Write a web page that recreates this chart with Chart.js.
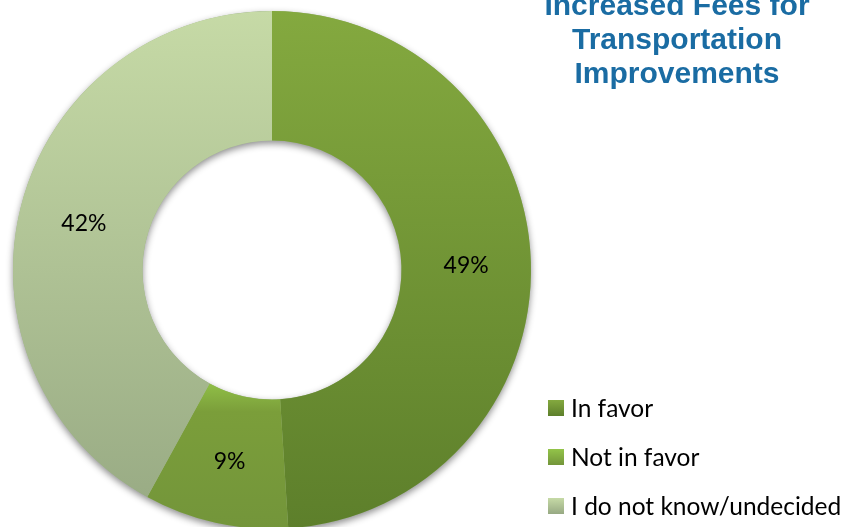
<!DOCTYPE html>
<html>
<head>
    <title>Increased Fees for Transportation Improvements</title>
    <script src="https://cdn.jsdelivr.net/npm/chart.js"></script>
    <style>
        html, body {
            margin: 0;
            padding: 0;
            background: #fff;
            overflow: hidden;
        }
        #wrap {
            position: relative;
            width: 856px;
            height: 531px;
        }
    </style>
</head>
<body>
<div id="wrap">
    <canvas id="feesChart"></canvas>
</div>
<script>
    // survey answers (percent)
    var answers = ['In favor', 'Not in favor', 'I do not know/undecided'];
    var shares = [49, 9, 42];
    var titleLines = ['Increased Fees for', 'Transportation', 'Improvements'];

    // top / bottom colour of each slice
    var topColors = ['#84a93f', '#93c449', '#c6daa6'];
    var bottomColors = ['#5d7f2b', '#73953a', '#97a983'];

    function sliceFill(context) {
        var i = context.dataIndex;
        var area = context.chart.chartArea;
        if (!area) return topColors[i];
        var c = context.chart.ctx;
        var g;
        if (i === 1) {
            // small slice sits at the bottom, light only along the hole edge
            var cy = (area.top + area.bottom) / 2;
            var r = (area.bottom - area.top) / 2;
            g = c.createLinearGradient(0, cy + r * 0.42, 0, area.bottom);
            g.addColorStop(0, topColors[1]);
            g.addColorStop(0.22, '#7b9e3a');
            g.addColorStop(1, bottomColors[1]);
        } else {
            g = c.createLinearGradient(0, area.top, 0, area.bottom);
            g.addColorStop(0, topColors[i]);
            g.addColorStop(1, bottomColors[i]);
        }
        return g;
    }

    var ringShadow = {
        id: 'ringShadow',
        beforeDatasetsDraw: function(chart) {
            var arc = chart.getDatasetMeta(0).data[0];
            if (!arc) return;
            var ctx = chart.ctx;
            ctx.save();
            ctx.beginPath();
            ctx.arc(arc.x, arc.y, arc.outerRadius, 0, Math.PI * 2);
            ctx.arc(arc.x, arc.y, arc.innerRadius, 0, Math.PI * 2, true);
            ctx.shadowColor = 'rgba(0,0,0,0.45)';
            ctx.shadowBlur = 7;
            ctx.shadowOffsetY = 3;
            ctx.fillStyle = '#9fb58a';
            ctx.fill();
            ctx.restore();
        }
    };

    var sliceLabels = {
        id: 'sliceLabels',
        afterDatasetsDraw: function(chart) {
            var ctx = chart.ctx;
            ctx.save();
            ctx.font = '23px Lato';
            ctx.fillStyle = '#000';
            ctx.textAlign = 'center';
            ctx.textBaseline = 'middle';
            chart.getDatasetMeta(0).data.forEach(function(arc, i) {
                var p = arc.tooltipPosition();
                ctx.fillText(shares[i] + '%', p.x, p.y + 2);
            });
            ctx.restore();
        }
    };

    var sideText = {
        id: 'sideText',
        afterDraw: function(chart) {
            var ctx = chart.ctx;
            ctx.save();
            // title, top line runs off the top edge
            ctx.font = 'bold 30px "Liberation Sans"';
            ctx.fillStyle = '#1a6ca3';
            ctx.textAlign = 'center';
            ctx.textBaseline = 'alphabetic';
            titleLines.forEach(function(line, i) {
                ctx.fillText(line, 677, 15 + i * 34);
            });

            // legend
            ctx.font = '24.5px Lato';
            ctx.textAlign = 'left';
            ctx.textBaseline = 'middle';
            answers.forEach(function(name, i) {
                var y = 408 + i * 49;
                var g = ctx.createLinearGradient(0, y - 8, 0, y + 8);
                g.addColorStop(0, topColors[i]);
                g.addColorStop(1, bottomColors[i]);
                ctx.fillStyle = g;
                ctx.fillRect(548, y - 8, 16, 16);
                ctx.fillStyle = '#000';
                ctx.fillText(name, 571, y + 1);
            });
            ctx.restore();
        }
    };

    var ctx = document.getElementById('feesChart').getContext('2d');
    var feesChart = new Chart(ctx, {
        type: 'doughnut',
        data: {
            labels: answers,
            datasets: [{
                data: shares,
                backgroundColor: sliceFill,
                borderWidth: 0
            }]
        },
        options: {
            responsive: true,
            maintainAspectRatio: false,
            animation: false,
            cutout: '50%',
            layout: {
                padding: { left: 13, right: 325, top: 11, bottom: 2 }
            },
            plugins: {
                legend: { display: false },
                title: { display: false },
                tooltip: { enabled: false }
            }
        },
        plugins: [ringShadow, sliceLabels, sideText]
    });
</script>
</body>
</html>
